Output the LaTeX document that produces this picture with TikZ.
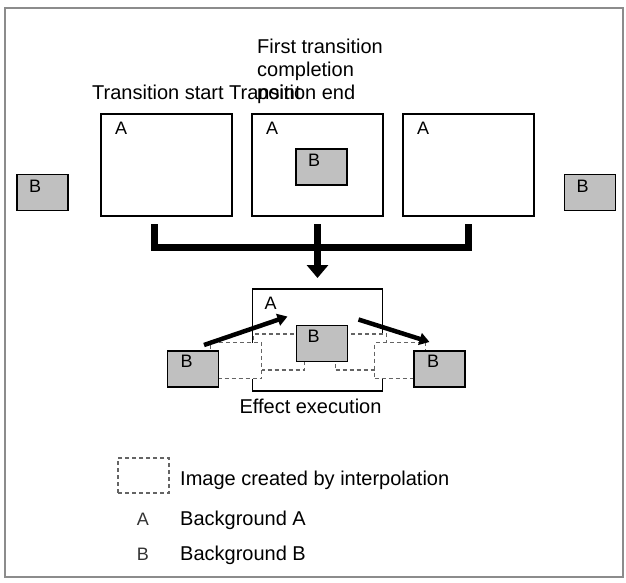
\documentclass[tikz,border=0pt]{standalone}
\usepackage{fontspec}
\setmainfont{Liberation Sans}
\usetikzlibrary{arrows.meta, positioning, calc}
\definecolor{bgray}{RGB}{192, 192, 192}
\definecolor{dashgray}{RGB}{100, 100, 100}
\definecolor{framegray}{RGB}{140, 140, 140}

\begin{document}
\begin{tikzpicture}[
            x=1pt, y=-1pt,
            node distance=20pt,
            screen/.style={draw, line width=1.8pt, inner sep=0pt, outer sep=0pt, minimum width=131pt, minimum height=102pt},
            bgbox/.style={draw, fill=bgray, line width=1.8pt, inner sep=0pt, outer sep=0pt, minimum width=51pt, minimum height=36pt},
            ghost/.style={draw=dashgray, fill=white, line width=1.2pt, dash pattern=on 4pt off 3pt, inner sep=0pt, outer sep=0pt, minimum width=51pt, minimum height=36pt},
            letter/.style={font=\fontsize{18}{18}\selectfont, inner sep=0pt, anchor=north west},
            caption/.style={font=\fontsize{20}{23}\selectfont, inner sep=0pt},
            bracket/.style={line width=7pt},
            movearrow/.style={line width=4.5pt, -{Triangle[width=12pt,length=10pt]}}
        ]
            \useasboundingbox (0,0) rectangle (626,582);
            \draw[framegray, line width=1.2pt] (5,8) rectangle (623,577);

            % Transition screens
            \node[screen] (t1) at (166.5,165) {};
            \node[screen, right=of t1] (t2) {};
            \node[screen, right=of t2] (t3) {};
            \node[bgbox] (bl) at (42.5,192.5) {};
            \node[bgbox] (br) at (590,192.5) {};
            \node[bgbox] (bm) at (321.5,167) {};

            \node[letter] (t1a) at ($(t1.north west)+(14,8)$) {A};
            \node[letter] (t2a) at ($(t2.north west)+(14,8)$) {A};
            \node[letter] (t3a) at ($(t3.north west)+(14,8)$) {A};
            \node[letter] (blb) at ($(bl.north west)+(12,5)$) {B};
            \node[letter] (brb) at ($(br.north west)+(12,5)$) {B};
            \node[letter] (bmb) at ($(bm.north west)+(12,5)$) {B};

            \node[caption, anchor=base west] (start) at (92,99) {Transition start};
            \node[caption, anchor=base west] (end) at (229,99) {Transition end};
            \node[caption, anchor=north west, align=left] (first) at (257,38.5) {First transition\\completion\\point};

            % Bracket
            \coordinate (k1) at ($(t1.south)+(-12,8)$);
            \coordinate (k2) at ($(t2.south)+(0,8)$);
            \coordinate (k3) at ($(t3.south)+(0,8)$);
            \coordinate (kb) at ($(t2.south)+(0,31)$);
            \draw[bracket] (k1) |- (kb -| k3) -- (k3);

            % Effect execution
            \node[screen, minimum width=130pt, below=73pt of t2] (ea) {};
            \draw[bracket, -{Triangle[width=21pt,length=13pt]}] (k2) -- ($(ea.north)+(0,-11)$);
            \node[bgbox] (lb) at (193,369) {};
            \node[bgbox] (rb) at (439.5,369) {};
            \node[ghost] (g2) at ($(lb)!2/3!(322,343.5)$) {};
            \node[ghost] (g3) at ($(322,343.5)!1/3!(rb)$) {};
            \node[bgbox] (cb) at (322,343.5) {};
            \node[ghost] (g1) at ($(lb)!1/3!(cb)$) {};
            \node[ghost] (g4) at ($(cb)!2/3!(rb)$) {};
            \node[bgbox] (lb) at (193,369) {};
            \node[bgbox] (rb) at (439.5,369) {};

            \node[letter] (eaa) at ($(ea.north west)+(12,8)$) {A};
            \node[letter] (lbb) at ($(lb.north west)+(13,4)$) {B};
            \node[letter] (cbb) at ($(cb.north west)+(11,4)$) {B};
            \node[letter] (rbb) at ($(rb.north west)+(13,4)$) {B};

            \coordinate (m1) at ($(lb.north)+(11,-6)$);
            \coordinate (m2) at ($(cb.north west)+(-9,-9)$);
            \coordinate (m3) at ($(cb.north east)+(11,-6)$);
            \coordinate (m4) at ($(rb.north)+(-10,-9)$);
            \draw[movearrow] (m1) -- (m2);
            \draw[movearrow] (m3) -- (m4);

            \node[caption, below=8pt of ea, xshift=-7pt] (effect) {Effect execution};

            % Legend
            \node[ghost, minimum height=35pt] (lg) at (143.5,475.5) {};
            \node[caption, anchor=base west] (lgtext) at (180,485) {Image created by interpolation};
            \node[letter, anchor=base, text=black!80] (la) at (143,525) {A};
            \node[caption, anchor=base west] (latext) at (180,525) {Background A};
            \node[letter, anchor=base, text=black!80] (lbl) at (143,560) {B};
            \node[caption, anchor=base west] (lbtext) at (180,560) {Background B};
        \end{tikzpicture}
\end{document}
